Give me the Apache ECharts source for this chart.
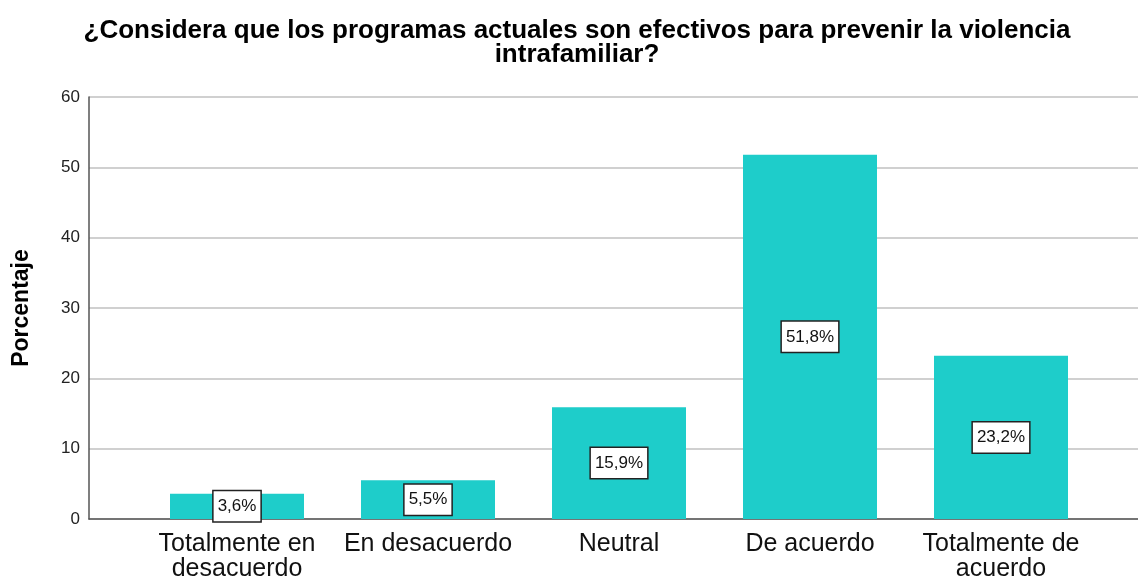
<!DOCTYPE html>
<html>
<head>
<meta charset="utf-8">
<script src="https://cdn.jsdelivr.net/npm/echarts@6/dist/echarts.min.js"></script>
<style>
  html, body { margin: 0; padding: 0; background: #fff; }
  #chart { width: 1138px; height: 580px; }
</style>
</head>
<body>
<div id="chart"></div>
<script>
const categories = ['Totalmente en\ndesacuerdo', 'En desacuerdo', 'Neutral', 'De acuerdo', 'Totalmente de\nacuerdo']
const percentages = [3.6, 5.5, 15.9, 51.8, 23.2]
const yTicks = { min: 0, max: 60, interval: 10 }

const font = '"Liberation Sans", Arial, sans-serif'
const chart = echarts.init(document.getElementById('chart'))

const opt = {
    animation: false,
    textStyle: { fontFamily: font },
    title: {
        text: '¿Considera que los programas actuales son efectivos para prevenir la violencia\nintrafamiliar?',
        left: 572,
        textAlign: 'center',
        top: 14,
        textStyle: { fontSize: 26, fontWeight: 'bold', color: '#000', lineHeight: 24, fontFamily: font }
    },
    grid: [
        // full width: gridlines + axis lines
        { left: 89, right: 0, top: 97, bottom: 61, outerBoundsMode: 'none', containLabel: false },
        // bars sit in a narrower band, like the original
        { left: 141.5, right: 41.5, top: 97, bottom: 61, outerBoundsMode: 'none', containLabel: false }
    ],
    xAxis: [
        {
            gridIndex: 0, type: 'value', min: 0, max: 1,
            axisLine: { show: true, onZero: false, lineStyle: { color: '#555', width: 1.5 } },
            axisTick: { show: false }, axisLabel: { show: false }, splitLine: { show: false }
        },
        {
            gridIndex: 1, type: 'category', data: categories,
            axisLine: { show: false }, axisTick: { show: false },
            axisLabel: { color: '#111', fontSize: 25, lineHeight: 25, margin: 13, interval: 0 }
        }
    ],
    yAxis: [
        {
            gridIndex: 0, type: 'value', min: yTicks.min, max: yTicks.max, interval: yTicks.interval,
            name: 'Porcentaje', nameLocation: 'middle', nameGap: 56,
            nameTextStyle: { fontSize: 23, fontWeight: 'bold', color: '#000' },
            axisLine: { show: true, lineStyle: { color: '#555', width: 1.5 } },
            axisTick: { show: false },
            axisLabel: { color: '#222', fontSize: 17, margin: 9 },
            splitLine: { lineStyle: { color: '#d0d0d0', width: 2 } }
        },
        {
            gridIndex: 1, type: 'value', min: yTicks.min, max: yTicks.max, interval: yTicks.interval,
            axisLine: { show: false }, axisTick: { show: false }, axisLabel: { show: false }, splitLine: { show: false }
        }
    ],
    series: [
        {
            type: 'bar',
            xAxisIndex: 1, yAxisIndex: 1,
            data: percentages,
            barWidth: 134,
            itemStyle: { color: '#1ecdca' },
            label: {
                show: true,
                position: 'inside',
                formatter: p => String(p.value).replace('.', ',') + '%',
                fontSize: 17, color: '#111',
                backgroundColor: '#fff',
                borderColor: '#222', borderWidth: 1.5,
                padding: [7, 4, 6, 4]
            }
        }
    ]
}

chart.setOption(opt)
</script>
</body>
</html>
